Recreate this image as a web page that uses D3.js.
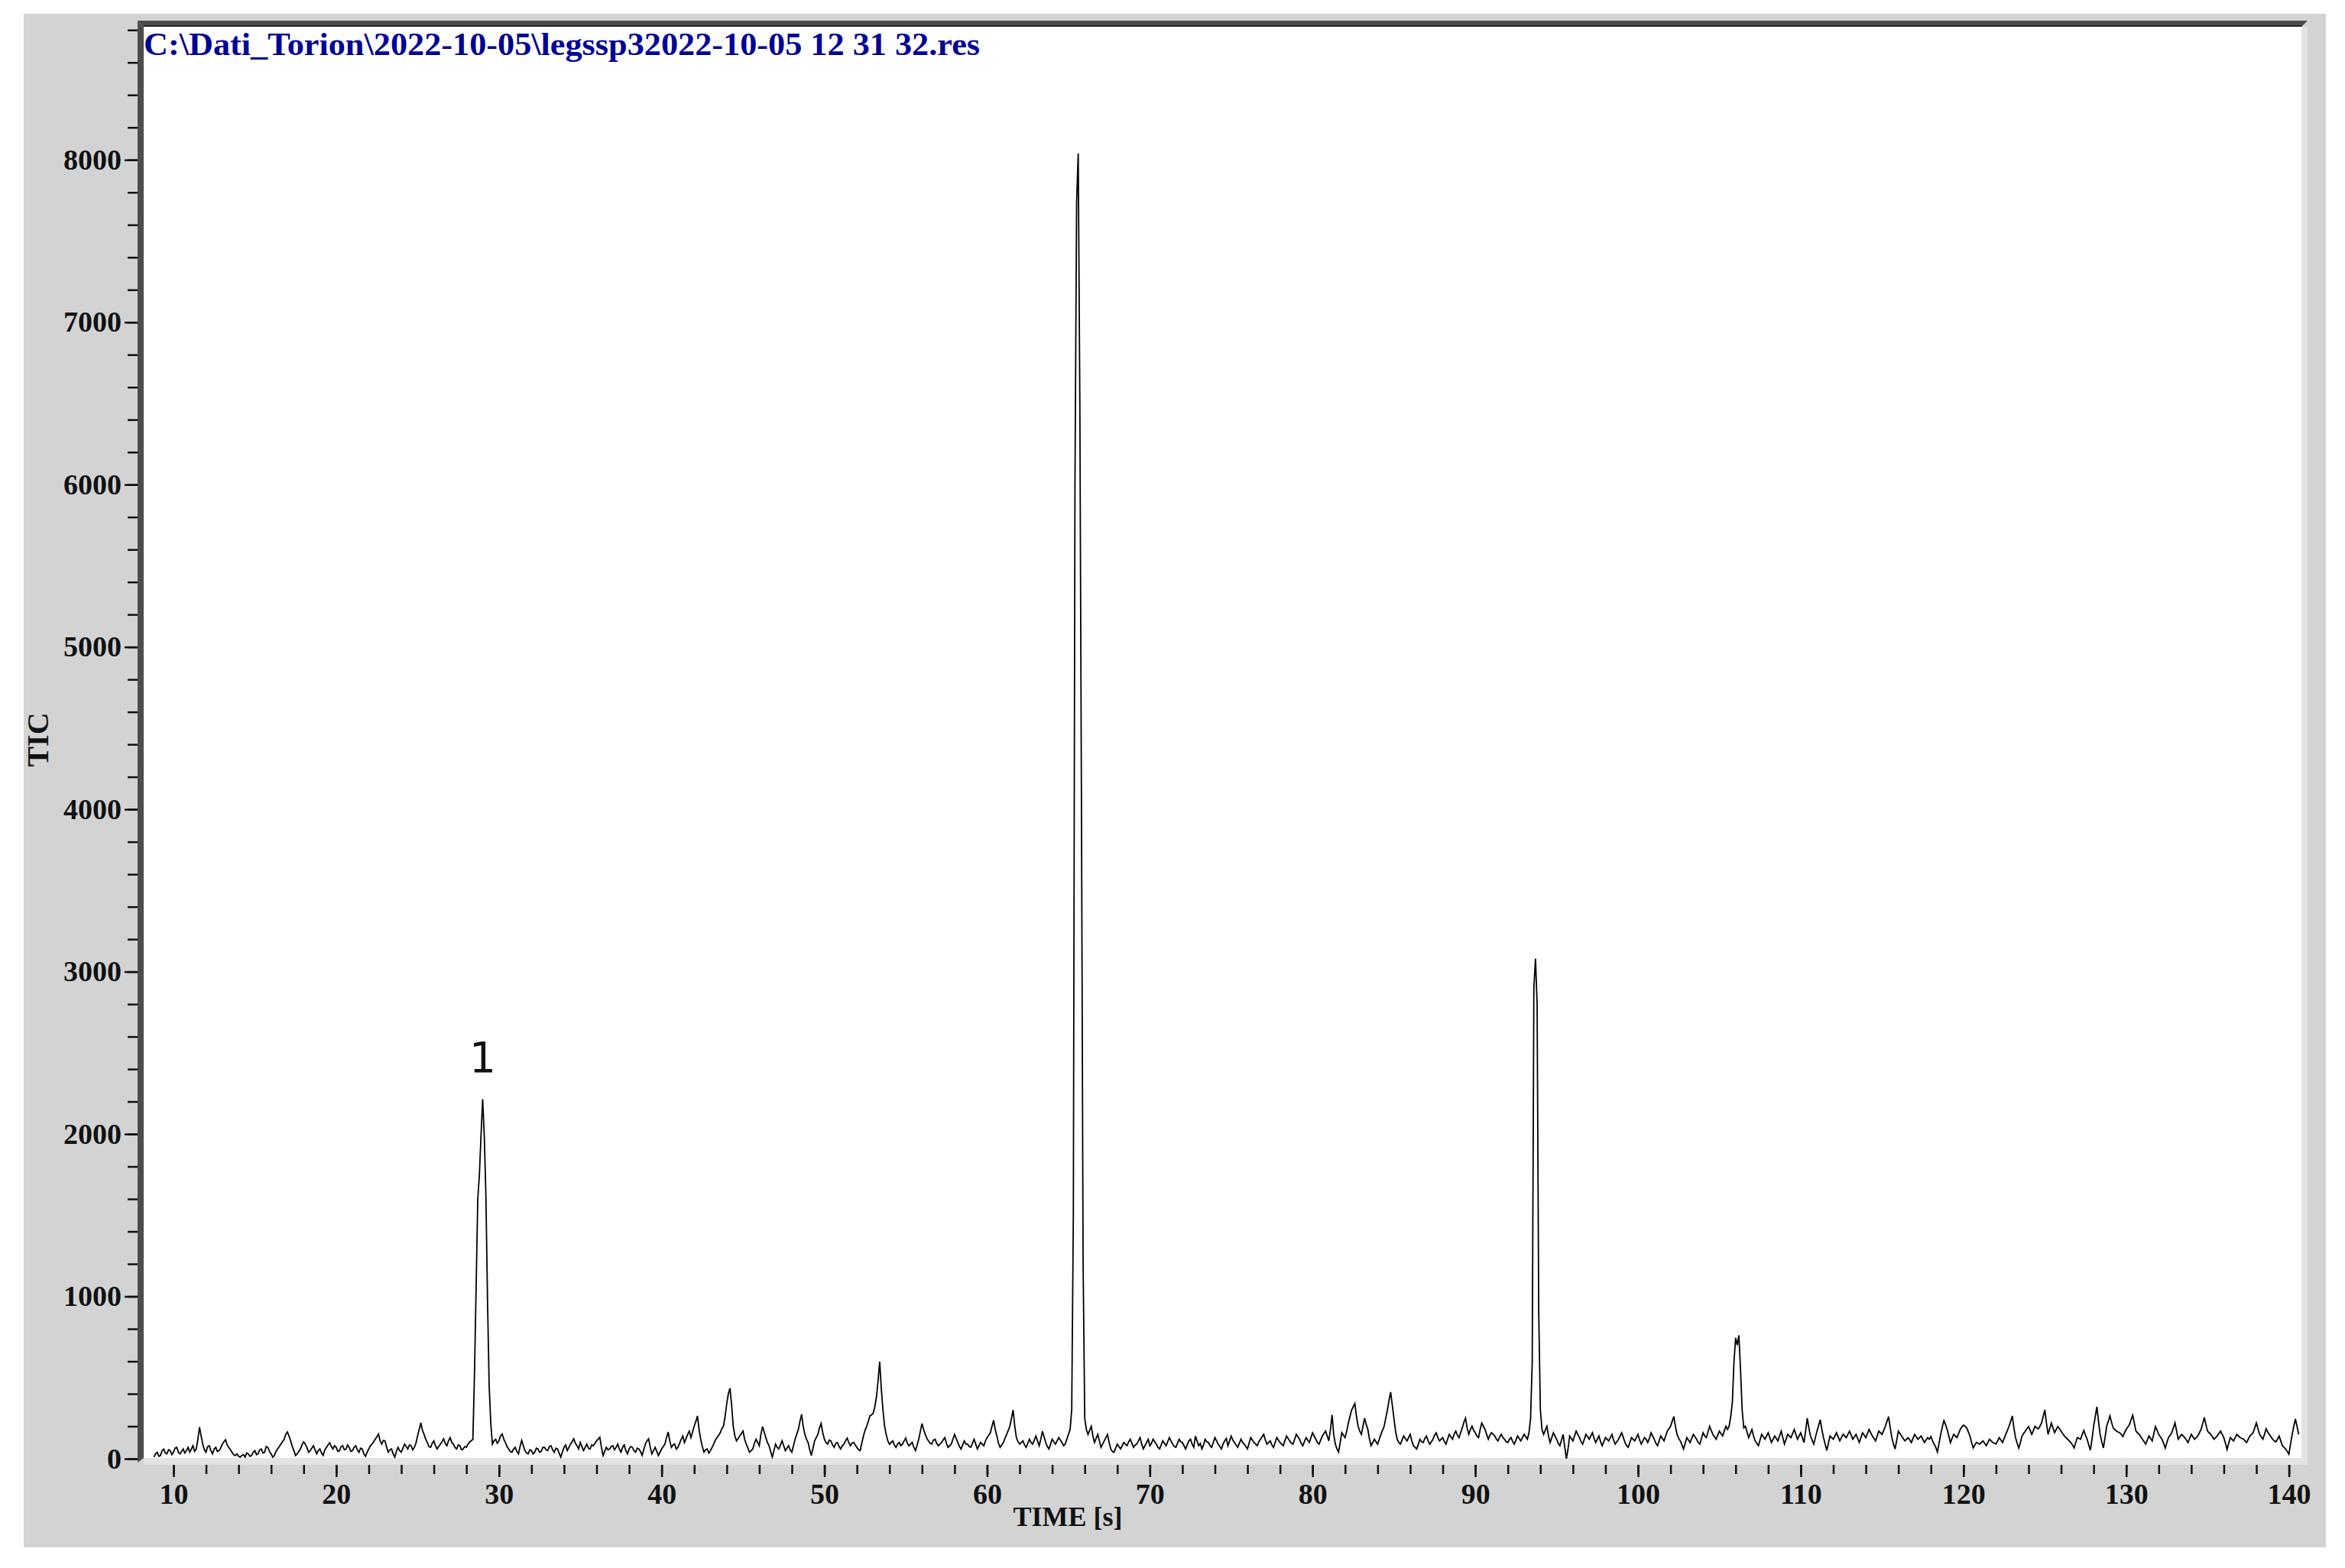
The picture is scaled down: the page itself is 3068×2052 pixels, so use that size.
<!DOCTYPE html>
<html><head><meta charset="utf-8">
<script src="https://cdn.jsdelivr.net/npm/d3@7"></script>
<style>html,body{margin:0;padding:0;background:#fff;} svg{display:block;}</style>
</head><body><svg id="chart" width="3068" height="2052"></svg>
<script>
// ---------- data ----------
const titleText = "C:\\Dati_Torion\\2022-10-05\\legssp32022-10-05 12 31 32.res";
const xLabel = "TIME [s]";
const yLabel = "TIC";
const peakLabels = [{ time: 29.0, value: 2214, text: "1" }];
const timeStart = 8.8;   // s, first sample
const timeStep = 0.1;    // s, sampling interval
const tic = [
  10,30,40,15,20,50,60,35,30,55,50,25,40,65,70,40,30,45,60,35,
  50,70,40,60,80,45,60,120,195,140,90,55,40,75,80,50,30,60,70,45,
  50,65,90,105,117,85,70,55,40,25,20,30,15,10,20,25,10,35,30,15,
  20,40,50,25,30,55,60,35,40,75,70,45,30,10,20,45,60,75,90,105,
  120,150,165,140,110,75,50,20,30,45,60,85,104,90,70,40,50,65,80,55,
  30,50,60,35,20,55,70,85,99,75,60,80,70,45,50,75,80,55,60,85,
  70,45,50,70,80,55,40,65,60,30,15,40,60,80,90,105,120,135,152,110,
  90,113,110,70,40,55,60,30,10,45,70,50,40,65,90,75,60,85,80,55,
  70,95,140,180,221,175,150,120,100,75,70,95,110,80,60,75,90,105,123,95,
  80,110,130,100,90,70,60,85,80,55,60,75,70,90,104,110,120,530,1060,1600,
  1750,1990,2214,1990,1620,970,450,217,90,110,120,95,110,140,152,120,100,75,60,45,
  40,60,70,45,30,75,113,80,50,35,30,55,50,30,40,65,60,40,45,70,
  70,55,50,75,80,55,40,65,60,35,10,40,70,85,50,70,90,105,123,95,
  80,60,100,75,50,70,90,65,60,85,80,95,110,120,132,70,20,45,70,55,
  60,75,80,55,70,90,60,40,70,85,50,30,60,75,70,50,40,65,60,45,
  20,55,90,110,123,70,30,50,70,45,20,40,60,75,90,130,165,110,70,85,
  90,60,70,95,120,140,100,125,150,170,130,165,200,230,264,180,120,75,40,55,
  60,35,50,70,90,115,130,145,160,185,200,260,340,400,434,330,200,140,110,125,
  140,155,170,120,90,65,40,50,60,95,120,100,80,150,198,165,130,100,80,45,
  10,50,90,70,60,85,110,80,50,65,80,55,40,80,120,150,180,230,273,200,
  150,120,100,55,20,65,110,130,150,190,217,160,120,100,90,115,110,85,70,95,
  100,75,60,80,90,110,127,100,80,95,100,85,70,55,50,95,140,175,200,230,
  264,270,280,320,380,480,598,430,300,200,150,110,90,100,110,85,70,90,100,80,
  90,110,127,95,80,90,100,70,50,85,120,170,217,180,150,125,110,95,90,115,
  120,95,80,90,100,115,130,95,70,80,90,120,150,125,100,75,60,85,110,90,
  90,75,70,95,120,90,60,80,100,90,80,110,130,145,160,200,237,180,140,95,
  70,85,100,125,150,175,200,250,300,200,130,105,90,100,110,85,70,95,120,100,
  90,115,140,110,80,120,170,135,100,75,60,90,120,105,90,110,130,115,100,80,
  90,120,150,180,300,1500,6000,7735,8040,6500,4000,1200,250,180,150,175,200,140,100,125,
  150,110,70,90,110,130,150,100,60,45,40,65,90,75,60,80,100,90,80,105,
  120,95,70,85,90,110,130,90,60,80,100,120,80,95,120,105,90,70,60,85,
  110,95,80,105,130,110,90,75,70,95,120,105,100,80,60,85,110,120,90,70,
  140,110,80,95,60,85,120,105,100,80,70,100,130,110,90,75,60,90,110,125,
  80,110,140,115,100,85,70,95,120,100,90,75,60,95,130,115,100,90,80,105,
  120,135,150,115,90,100,110,85,70,100,130,115,100,90,80,110,140,125,110,95,
  90,120,150,135,120,95,80,105,130,115,100,130,160,140,120,100,90,115,140,155,
  170,140,110,180,270,150,90,60,40,100,160,145,130,170,220,260,300,320,340,260,
  200,170,150,200,250,210,180,120,80,100,120,105,90,120,150,175,200,250,300,360,
  410,330,250,170,120,100,90,115,140,125,110,130,150,110,80,70,60,90,120,105,
  100,125,140,110,90,105,120,145,160,130,110,120,130,105,90,120,150,135,120,150,
  170,145,130,160,190,225,250,190,150,180,200,175,160,140,130,180,220,200,180,150,
  120,145,160,150,140,120,110,135,150,130,120,105,100,120,130,105,90,115,140,125,
  110,130,150,135,120,160,250,600,2900,3080,2800,900,300,180,150,175,200,140,100,130,
  160,140,120,95,80,115,150,70,0,60,140,125,110,140,170,150,130,105,90,120,
  150,135,120,140,160,125,100,120,140,105,80,105,130,120,110,130,150,115,90,105,
  120,140,160,130,100,80,70,100,130,120,110,130,150,115,90,110,130,120,100,125,
  160,140,120,95,80,110,140,125,110,140,170,185,200,230,260,200,150,125,110,85,
  60,95,130,115,100,125,150,135,120,100,90,125,160,140,130,165,200,175,150,135,
  120,145,170,155,140,170,200,180,200,260,350,600,745,700,760,550,300,190,200,165,
  130,155,180,140,110,95,80,115,150,135,120,140,160,130,100,120,140,125,110,140,
  170,130,90,120,150,140,130,155,180,150,120,140,160,130,100,170,250,190,140,115,
  90,130,170,205,240,180,130,90,50,95,140,130,120,140,160,135,110,130,150,140,
  130,150,170,145,120,135,150,125,100,130,160,145,130,155,180,160,140,125,110,140,
  170,160,150,175,200,230,260,190,130,90,60,115,170,155,140,125,110,120,130,115,
  100,125,150,135,120,130,140,120,100,115,130,120,137,110,90,70,42,95,150,195,
  235,210,180,140,99,125,150,140,130,155,180,195,207,200,190,165,140,100,66,85,
  100,95,90,100,110,95,80,100,120,110,100,95,90,110,130,115,100,125,150,175,
  200,230,264,190,130,95,66,100,140,155,170,185,198,175,150,175,200,190,184,200,
  220,260,301,220,150,185,220,190,160,180,198,185,170,155,140,130,120,110,100,85,
  66,100,130,125,120,150,174,145,120,85,52,120,200,260,320,230,150,105,66,130,
  200,230,264,225,190,180,170,165,160,150,137,160,180,195,210,240,268,220,170,160,
  150,135,120,105,90,115,140,125,110,155,198,175,150,135,120,95,66,100,130,145,
  160,190,221,170,120,135,150,140,130,115,100,125,150,135,120,130,140,160,180,215,
  254,210,170,160,150,135,120,130,140,155,170,150,130,95,57,95,130,120,110,130,
  150,140,130,125,122,110,100,120,140,150,160,190,221,185,150,135,120,150,184,165,
  150,135,120,110,104,120,140,110,80,70,60,45,28,90,150,200,245,200,150
];
const xMajorTicks = [10, 20, 30, 40, 50, 60, 70, 80, 90, 100, 110, 120, 130, 140];
const xMinorTicks = d3.range(10, 141, 2);
const yMajorTicks = [0, 1000, 2000, 3000, 4000, 5000, 6000, 7000, 8000];
const yMinorTicks = d3.range(0, 8801, 200);
const xDomain = [8.17, 140.77];
const yDomain = [0, 8820];

// ---------- layout ----------
const svg = d3.select("#chart");
const panel = { left: 31, top: 18, right: 3043, bottom: 2025 };
const plot = { left: 188, top: 35, right: 3011, bottom: 1909 };
const serif = "'Liberation Serif','Times New Roman',serif";

const x = d3.scaleLinear().domain(xDomain).range([plot.left, plot.right]);
const y = d3.scaleLinear().domain(yDomain).range([plot.bottom, plot.top]);

// background panel
svg.append("rect").attr("x", panel.left).attr("y", panel.top)
  .attr("width", panel.right - panel.left).attr("height", panel.bottom - panel.top)
  .attr("fill", "#d3d3d3");
// light bevel strips
svg.append("rect").attr("x", plot.left).attr("y", plot.bottom - 1)
  .attr("width", plot.right - plot.left + 8).attr("height", 9).attr("fill", "#e3e3e3");
svg.append("rect").attr("x", plot.right).attr("y", plot.top)
  .attr("width", 8).attr("height", plot.bottom - plot.top + 8).attr("fill", "#e3e3e3");
// white plot area
svg.append("rect").attr("x", plot.left).attr("y", plot.top)
  .attr("width", plot.right - plot.left).attr("height", plot.bottom - 1 - plot.top)
  .attr("fill", "#ffffff");
// dark top border
svg.append("polygon")
  .attr("points", [[plot.left - 8, plot.top - 8], [plot.right + 8, plot.top - 8], [plot.right, plot.top], [plot.left, plot.top]].join(" "))
  .attr("fill", "#4a4a4a");
svg.append("line").attr("x1", plot.left).attr("x2", plot.right)
  .attr("y1", plot.top - 1).attr("y2", plot.top - 1).attr("stroke", "#222").attr("stroke-width", 2);
// dark left axis bar
svg.append("polygon")
  .attr("points", [[plot.left - 8, plot.top - 8], [plot.left, plot.top], [plot.left, plot.bottom - 1], [plot.left - 8, plot.bottom + 5]].join(" "))
  .attr("fill", "#4d4d4d");

// clip
svg.append("clipPath").attr("id", "clip").append("rect")
  .attr("x", plot.left).attr("y", plot.top)
  .attr("width", plot.right - plot.left).attr("height", plot.bottom - plot.top);

// trace
const line = d3.line()
  .x((d, i) => x(timeStart + i * timeStep))
  .y(d => y(d));
svg.append("path").datum(tic)
  .attr("clip-path", "url(#clip)")
  .attr("d", line)
  .attr("fill", "none").attr("stroke", "#000").attr("stroke-width", 1.8)
  .attr("stroke-linejoin", "miter");

// y axis
const yAxisMinor = svg.append("g").attr("transform", `translate(${plot.left - 8},0)`)
  .call(d3.axisLeft(y).tickValues(yMinorTicks).tickSize(13).tickFormat(""));
const yAxisMajor = svg.append("g").attr("transform", `translate(${plot.left - 8},0)`)
  .call(d3.axisLeft(y).tickValues(yMajorTicks).tickSize(17).tickPadding(4).tickFormat(d3.format("d")));
[yAxisMinor, yAxisMajor].forEach(g => {
  g.select(".domain").remove();
  g.selectAll(".tick line").attr("stroke", "#111").attr("stroke-width", 2.5);
});
yAxisMajor.selectAll("text").attr("font-family", serif).attr("font-weight", "bold")
  .attr("font-size", 38).attr("fill", "#111");

// x axis
const xAxisY = plot.bottom + 8;
const xAxisMinor = svg.append("g").attr("transform", `translate(0,${xAxisY})`)
  .call(d3.axisBottom(x).tickValues(xMinorTicks).tickSize(12).tickFormat(""));
const xAxisMajor = svg.append("g").attr("transform", `translate(0,${xAxisY})`)
  .call(d3.axisBottom(x).tickValues(xMajorTicks).tickSize(16).tickFormat(d3.format("d")));
[xAxisMinor, xAxisMajor].forEach(g => {
  g.select(".domain").remove();
  g.selectAll(".tick line").attr("stroke", "#111").attr("stroke-width", 2.5);
});
xAxisMajor.selectAll("text").attr("y", 51).attr("dy", 0)
  .attr("font-family", serif).attr("font-weight", "bold")
  .attr("font-size", 38).attr("fill", "#111");

// axis titles
svg.append("text").attr("x", 1397).attr("y", 1997).attr("text-anchor", "middle")
  .attr("font-family", serif).attr("font-weight", "bold").attr("font-size", 36)
  .attr("fill", "#111").text(xLabel);
svg.append("text").attr("transform", "translate(63,968) rotate(-90)")
  .attr("text-anchor", "middle")
  .attr("font-family", serif).attr("font-weight", "bold").attr("font-size", 40)
  .attr("fill", "#111").text(yLabel);

// title (file path)
svg.append("text").attr("x", plot.left).attr("y", 72)
  .attr("font-family", serif).attr("font-weight", "bold").attr("font-size", 42)
  .attr("textLength", 1094).attr("lengthAdjust", "spacingAndGlyphs")
  .attr("fill", "#000096").text(titleText);

// peak annotation
svg.selectAll(".peak-label").data(peakLabels).enter().append("text")
  .attr("class", "peak-label")
  .attr("x", d => x(d.time)).attr("y", d => y(d.value) - 36)
  .attr("text-anchor", "middle")
  .attr("font-family", "'DejaVu Sans',sans-serif").attr("font-size", 55)
  .attr("fill", "#111").text(d => d.text);
</script>
</body></html>
